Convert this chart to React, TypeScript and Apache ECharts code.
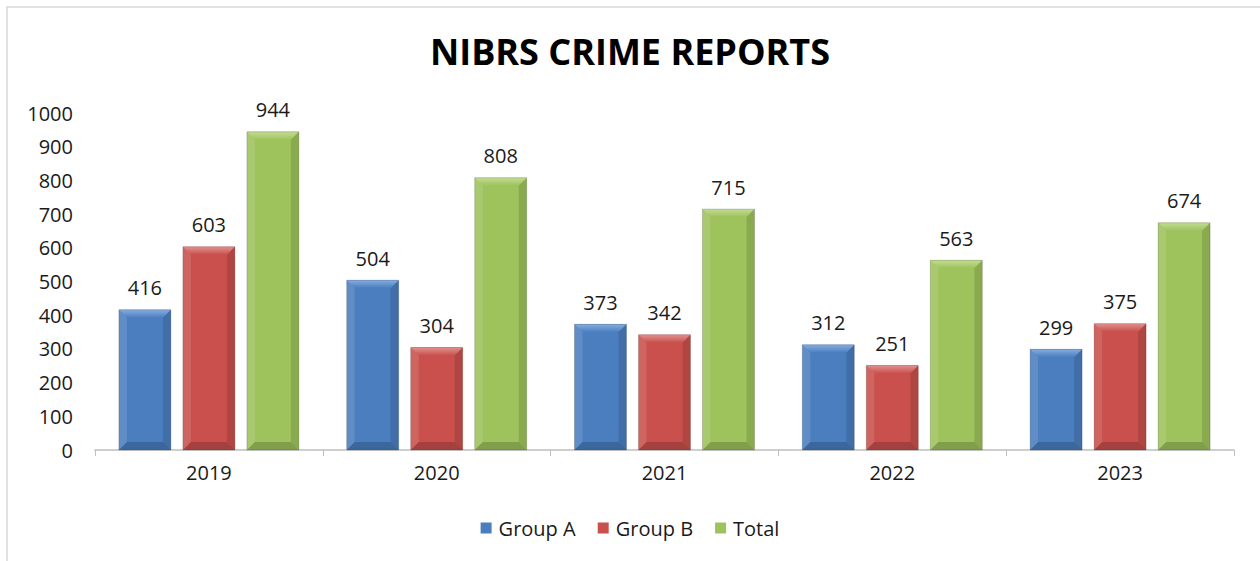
import React, { useEffect, useRef } from "react";
import * as echarts from "echarts";

const categories = ["2019", "2020", "2021", "2022", "2023"];
const groupA = [416, 504, 373, 312, 299];
const groupB = [603, 304, 342, 251, 375];
const total = [944, 808, 715, 563, 674];
const yTicks = [0, 100, 200, 300, 400, 500, 600, 700, 800, 900, 1000];

const seriesDefs = [
  { name: "Group A", data: groupA, color: "#4A7EBF", light: "#86ADDF" },
  { name: "Group B", data: groupB, color: "#C9504C", light: "#E2918F" },
  { name: "Total", data: total, color: "#9EC25C", light: "#C2DD92" },
];

const BAR_W = 52;
const BAR_GAP = 12;
const BEVEL = 8;
const FONT = "'Open Sans', 'Noto Sans', sans-serif";

export default function App() {
  const ref = useRef<HTMLDivElement>(null);
  useEffect(() => {
    if (!ref.current) return;
    const chart = echarts.init(ref.current, null, { renderer: "svg" });

    const bevelSeries = seriesDefs.map((s, si) => ({
      type: "custom",
      name: s.name + " bevel",
      silent: true,
      z: 3,
      data: s.data.map((v, i) => [i, v]),
      renderItem: (params: any, api: any) => {
        const top = api.coord([api.value(0), api.value(1)]);
        const base = api.coord([api.value(0), 0]);
        const cx = top[0] + (si - 1) * (BAR_W + BAR_GAP);
        const x0 = cx - BAR_W / 2;
        const x1 = cx + BAR_W / 2;
        const y0 = top[1];
        const y1 = base[1];
        const b = BEVEL;
        return {
          type: "group",
          children: [
            {
              type: "polygon",
              shape: { points: [[x0, y0], [x1, y0], [x1 - b, y0 + b], [x0 + b, y0 + b]] },
              style: {
                fill: new echarts.graphic.LinearGradient(0, 0, 0, 1, [
                  { offset: 0, color: s.light },
                  { offset: 1, color: s.color },
                ]),
              },
            },
            {
              type: "polygon",
              shape: { points: [[x0, y0], [x0 + b, y0 + b], [x0 + b, y1 - b], [x0, y1]] },
              style: { fill: "rgba(255,255,255,0.12)" },
            },
            {
              type: "polygon",
              shape: { points: [[x1, y0], [x1, y1], [x1 - b, y1 - b], [x1 - b, y0 + b]] },
              style: { fill: "rgba(0,0,0,0.12)" },
            },
            {
              type: "polygon",
              shape: { points: [[x0, y1], [x1, y1], [x1 - b, y1 - b], [x0 + b, y1 - b]] },
              style: { fill: "rgba(0,0,0,0.18)" },
            },
            {
              type: "rect",
              shape: { x: x0, y: y0, width: BAR_W, height: y1 - y0 },
              style: { fill: "none", stroke: "rgba(0,0,0,0.2)", lineWidth: 0.8 },
            },
          ],
        };
      },
    }));

    const barSeries = seriesDefs.map((s) => ({
      type: "bar",
      name: s.name,
      data: s.data,
      barWidth: BAR_W,
      barGap: (BAR_GAP / BAR_W) * 100 + "%",
      itemStyle: { color: s.color },
      label: {
        show: true,
        position: "top",
        distance: 12,
        fontFamily: FONT,
        fontSize: 20,
        color: "#1a1a1a",
      },
    }));

    chart.setOption({
      animation: false,
      backgroundColor: "#ffffff",
      title: {
        text: "NIBRS CRIME REPORTS",
        left: "center",
        top: 28,
        textStyle: { fontFamily: FONT, fontSize: 36, fontWeight: "bold", color: "#000" },
      },
      graphic: [
        {
          type: "rect",
          shape: { x: 7, y: 7, width: 1300, height: 600 },
          style: { fill: "none", stroke: "#d9d9d9", lineWidth: 1.5 },
          silent: true,
        },
      ],
      legend: {
        bottom: 18,
        left: "center",
        itemWidth: 11,
        itemHeight: 11,
        itemGap: 22,
        icon: "rect",
        data: seriesDefs.map((s) => s.name),
        textStyle: { fontFamily: FONT, fontSize: 20, color: "#1a1a1a", padding: [0, 0, 0, 2] },
      },
      grid: { left: 95, right: 26, top: 113, bottom: 111 },
      xAxis: {
        type: "category",
        data: categories,
        axisLine: { lineStyle: { color: "#bfbfbf", width: 1.5 } },
        axisTick: { show: true, length: 6, lineStyle: { color: "#bfbfbf" } },
        axisLabel: { fontFamily: FONT, fontSize: 20, color: "#1a1a1a", margin: 12 },
      },
      yAxis: {
        type: "value",
        min: yTicks[0],
        max: yTicks[yTicks.length - 1],
        interval: 100,
        axisLine: { show: false },
        axisTick: { show: false },
        splitLine: { show: false },
        axisLabel: {
          fontFamily: FONT,
          fontSize: 20,
          color: "#1a1a1a",
          margin: 22,
          formatter: (v: number) => String(v),
        },
      },
      series: [...barSeries, ...bevelSeries],
    });
    return () => chart.dispose();
  }, []);
  return (
    <div
      ref={ref}
      style={{ position: "absolute", left: 0, top: 0, width: 1260, height: 561 }}
    />
  );
}
